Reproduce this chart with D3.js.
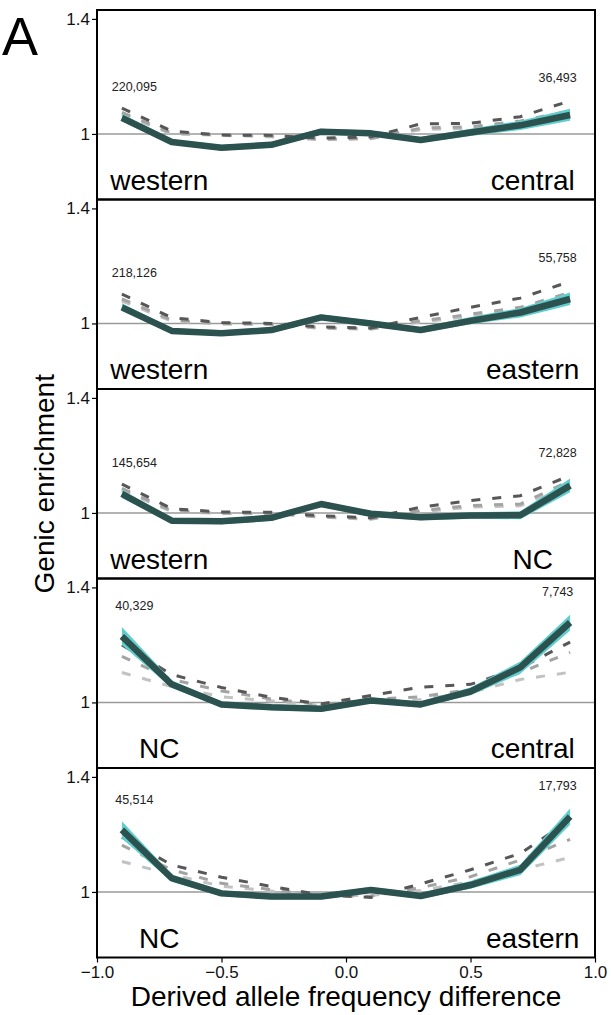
<!DOCTYPE html>
<html>
<head>
<meta charset="utf-8">
<script src="https://cdn.jsdelivr.net/npm/d3@7"></script>
<style>
  body { margin: 0; background: #fff; }
  svg text { font-family: "Liberation Sans", Arial, sans-serif; }
</style>
</head>
<body>
<div id="chart"></div>
<script>
// frequency-difference bins (bin centres)
const bins = [-0.9, -0.7, -0.5, -0.3, -0.1, 0.1, 0.3, 0.5, 0.7, 0.9];

const leftNames = ['western', 'western', 'western', 'NC', 'NC'];
const rightNames = ['central', 'eastern', 'NC', 'central', 'eastern'];
const leftCounts = ['220,095', '218,126', '145,654', '40,329', '45,514'];
const rightCounts = ['36,493', '55,758', '72,828', '7,743', '17,793'];

const xTicks = [-1, -0.5, 0, 0.5, 1];
const yTicks = [1, 1.4];

// observed genic enrichment, one row per panel
const observed = [
  [1.056, 0.972, 0.952, 0.962, 1.008, 1.002, 0.979, 1.005, 1.030, 1.066],
  [1.056, 0.974, 0.966, 0.977, 1.021, 1.000, 0.977, 1.009, 1.038, 1.085],
  [1.066, 0.973, 0.971, 0.983, 1.031, 0.997, 0.985, 0.991, 0.992, 1.095],
  [1.230, 1.063, 0.993, 0.983, 0.978, 1.007, 0.993, 1.038, 1.122, 1.278],
  [1.216, 1.048, 0.995, 0.984, 0.984, 1.007, 0.986, 1.024, 1.077, 1.262]
];
const bandHigh = [
  [1.070, 0.981, 0.962, 0.972, 1.018, 1.012, 0.989, 1.018, 1.046, 1.088],
  [1.070, 0.983, 0.976, 0.987, 1.031, 1.010, 0.987, 1.022, 1.054, 1.108],
  [1.080, 0.982, 0.981, 0.993, 1.041, 1.007, 0.995, 1.002, 1.006, 1.120],
  [1.262, 1.076, 1.003, 0.993, 0.988, 1.017, 1.003, 1.052, 1.142, 1.305],
  [1.246, 1.061, 1.005, 0.994, 0.994, 1.017, 0.996, 1.038, 1.095, 1.290]
];
const bandLow = [
  [1.043, 0.963, 0.942, 0.952, 0.998, 0.992, 0.969, 0.993, 1.014, 1.046],
  [1.043, 0.965, 0.956, 0.967, 1.011, 0.990, 0.967, 0.997, 1.021, 1.064],
  [1.052, 0.964, 0.961, 0.973, 1.021, 0.987, 0.975, 0.980, 0.978, 1.072],
  [1.200, 1.050, 0.983, 0.973, 0.968, 0.997, 0.983, 1.025, 1.100, 1.250],
  [1.186, 1.035, 0.985, 0.974, 0.974, 0.997, 0.976, 1.011, 1.058, 1.234]
];
// dashed comparison curves
const dashDark = [
  [1.090, 1.010, 0.996, 0.995, 0.985, 0.990, 1.035, 1.037, 1.060, 1.115],
  [1.102, 1.020, 1.003, 1.000, 0.988, 0.984, 1.021, 1.056, 1.088, 1.146],
  [1.100, 1.015, 1.003, 1.002, 0.990, 0.983, 1.020, 1.043, 1.060, 1.130],
  [1.200, 1.097, 1.052, 1.018, 0.995, 1.024, 1.053, 1.063, 1.120, 1.210],
  [1.190, 1.094, 1.051, 1.019, 0.990, 0.981, 1.028, 1.077, 1.134, 1.250]
];
const dashMid = [
  [1.075, 1.003, 0.998, 0.993, 0.982, 0.985, 1.020, 1.025, 1.045, 1.080],
  [1.085, 1.012, 1.000, 0.998, 0.985, 0.982, 1.009, 1.032, 1.056, 1.108],
  [1.085, 1.008, 1.000, 0.999, 0.987, 0.980, 1.008, 1.026, 1.031, 1.112],
  [1.160, 1.080, 1.040, 1.012, 0.992, 1.010, 1.020, 1.045, 1.104, 1.174],
  [1.163, 1.077, 1.030, 1.008, 0.988, 0.985, 1.015, 1.053, 1.111, 1.183]
];
const dashLight = [
  [1.068, 1.000, 0.995, 0.990, 0.980, 0.983, 1.015, 1.020, 1.038, 1.072],
  [1.078, 1.008, 0.998, 0.996, 0.983, 0.980, 1.005, 1.025, 1.048, 1.095],
  [1.078, 1.005, 0.998, 0.997, 0.985, 0.978, 1.004, 1.020, 1.025, 1.100],
  [1.104, 1.055, 1.020, 1.005, 0.990, 1.000, 1.010, 1.035, 1.080, 1.105],
  [1.106, 1.060, 1.020, 1.003, 0.986, 0.988, 1.005, 1.035, 1.077, 1.120]
];

const width = 611, height = 1015;
const margin = { top: 10, left: 97, right: 16 };
const panelH = 189.5;

const $svg = d3.select('#chart').append('svg')
  .attr('width', width)
  .attr('height', height);

const x = d3.scaleLinear().domain([-1, 1]).range([margin.left, width - margin.right]);
const y = d3.scaleLinear().domain([0.772, 1.431]).range([panelH, 0]);

const toPoints = vals => vals.map((v, i) => [bins[i], v]);

const line = d3.line()
  .x(d => x(d[0]))
  .y(d => y(d[1]));

const band = d3.area()
  .x(d => x(d.x))
  .y0(d => y(d.lo))
  .y1(d => y(d.hi));

const dashStyles = [
  { data: dashLight, colour: '#c2c2c2' },
  { data: dashMid, colour: '#a3a3a3' },
  { data: dashDark, colour: '#575757' }
];

observed.forEach((obs, p) => {
  const $panel = $svg.append('g')
    .attr('transform', `translate(0, ${margin.top + p * panelH})`);

  // reference line at 1
  $panel.append('line')
    .attr('x1', x(-1)).attr('x2', x(1))
    .attr('y1', y(1)).attr('y2', y(1))
    .attr('stroke', '#9a9a9a')
    .attr('stroke-width', 1.5);

  dashStyles.forEach(s => {
    $panel.append('path')
      .attr('d', line(toPoints(s.data[p])))
      .attr('fill', 'none')
      .attr('stroke', s.colour)
      .attr('stroke-width', 3)
      .attr('stroke-dasharray', '9, 12');
  });

  $panel.append('path')
    .attr('d', band(bins.map((b, i) => ({ x: b, lo: bandLow[p][i], hi: bandHigh[p][i] }))))
    .attr('fill', '#62cdcd');

  $panel.append('path')
    .attr('d', line(toPoints(obs)))
    .attr('fill', 'none')
    .attr('stroke', '#2c524f')
    .attr('stroke-width', 6.5)
    .attr('stroke-linejoin', 'round');

  // sample counts above the curve ends
  const leftTop = d3.max([dashDark[p][0], bandHigh[p][0]]);
  const rightTop = d3.max([dashDark[p][9], bandHigh[p][9]]);
  $panel.append('text')
    .attr('x', x(-0.85))
    .attr('y', y(leftTop) - 17)
    .attr('text-anchor', 'middle')
    .attr('font-size', 12.5)
    .attr('fill', '#222')
    .text(leftCounts[p]);
  $panel.append('text')
    .attr('x', x(0.85))
    .attr('y', y(rightTop) - 19)
    .attr('text-anchor', 'middle')
    .attr('font-size', 12.5)
    .attr('fill', '#222')
    .text(rightCounts[p]);

  // population labels
  $panel.append('text')
    .attr('x', x(-0.75))
    .attr('y', panelH - 10)
    .attr('text-anchor', 'middle')
    .attr('font-size', 28)
    .text(leftNames[p]);
  $panel.append('text')
    .attr('x', x(0.75))
    .attr('y', panelH - 10)
    .attr('text-anchor', 'middle')
    .attr('font-size', 28)
    .text(rightNames[p]);

  // y axis
  const $yAxis = $panel.append('g')
    .attr('transform', `translate(${x(-1)}, 0)`)
    .call(d3.axisLeft(y).tickValues(yTicks).tickSize(5).tickPadding(2)
      .tickFormat(d => d === 1 ? '1' : d3.format('.1f')(d)));
  $yAxis.select('.domain').remove();
  $yAxis.selectAll('text')
    .attr('font-size', 17)
    .attr('font-family', null)
    .attr('fill', '#111');
  $yAxis.selectAll('line').attr('stroke', '#000').attr('stroke-width', 1.2);

  // panel frame
  $panel.append('rect')
    .attr('x', x(-1))
    .attr('y', 0)
    .attr('width', x(1) - x(-1))
    .attr('height', panelH)
    .attr('fill', 'none')
    .attr('stroke', '#000')
    .attr('stroke-width', 2);
});

// x axis under the last panel
const $xAxis = $svg.append('g')
  .attr('transform', `translate(0, ${margin.top + 5 * panelH})`)
  .call(d3.axisBottom(x).tickValues(xTicks).tickSize(5).tickPadding(3)
    .tickFormat(d3.format('.1f')));
$xAxis.select('.domain').remove();
$xAxis.selectAll('text')
  .attr('font-size', 17)
  .attr('font-family', null)
  .attr('fill', '#111');
$xAxis.selectAll('line').attr('stroke', '#000').attr('stroke-width', 1.2);

$svg.append('text')
  .attr('x', (x(-1) + x(1)) / 2)
  .attr('y', 1006)
  .attr('text-anchor', 'middle')
  .attr('font-size', 28)
  .text('Derived allele frequency difference');

$svg.append('text')
  .attr('transform', `translate(54, ${margin.top + 2.5 * panelH}) rotate(-90)`)
  .attr('text-anchor', 'middle')
  .attr('font-size', 28)
  .text('Genic enrichment');

$svg.append('text')
  .attr('x', 2)
  .attr('y', 55)
  .attr('font-size', 54)
  .text('A');
</script>
</body>
</html>
